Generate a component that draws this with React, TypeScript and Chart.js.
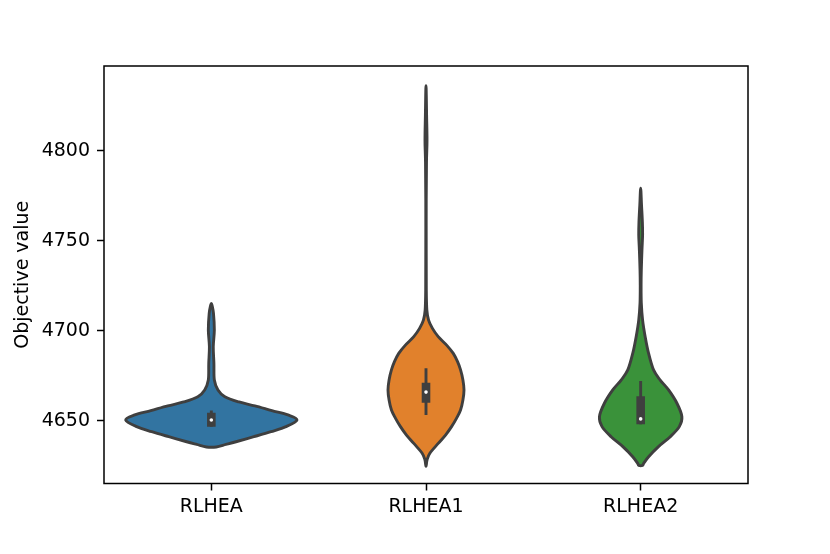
import React, { useEffect, useRef } from "react";
import { Chart, registerables } from "chart.js";

Chart.register(...registerables);

// ---- data ----
const categories = ["RLHEA", "RLHEA1", "RLHEA2"];
const yTicks = [4650, 4700, 4750, 4800];
const yMin = 4615.1;
const yMax = 4847.1;

// violin outlines: objective-value levels (bottom -> top) and half-widths (x-axis units)
const rlheaLevels = [4635.4, 4636.8, 4638.3, 4641.1, 4643.9, 4646.7, 4650.4, 4653.2, 4655.6, 4658.2, 4660.4, 4663.3, 4667.1, 4672.6, 4681.9, 4691.1, 4700.4, 4709.6, 4714.3, 4715.2];
const rlheaHalfWidths = [0.023, 0.068, 0.115, 0.198, 0.278, 0.348, 0.399, 0.357, 0.282, 0.203, 0.129, 0.063, 0.031, 0.014, 0.012, 0.009, 0.014, 0.010, 0.003, 0];

const rlhea1Levels = [4624.6, 4628.2, 4631.9, 4637.4, 4642.0, 4646.7, 4651.3, 4655.9, 4661.5, 4667.1, 4672.6, 4678.2, 4682.8, 4687.4, 4692.0, 4696.7, 4701.3, 4705.9, 4711.5, 4722.6, 4744.8, 4772.6, 4793.7, 4805.9, 4819.8, 4830.9, 4836.2];
const rlhea1HalfWidths = [0, 0.005, 0.018, 0.057, 0.091, 0.119, 0.142, 0.161, 0.172, 0.177, 0.172, 0.161, 0.147, 0.127, 0.096, 0.057, 0.030, 0.012, 0.004, 0.0014, 0.001, 0.001, 0.0023, 0.0047, 0.0028, 0.0014, 0];

const rlhea2Levels = [4625.2, 4626.3, 4630.0, 4635.6, 4641.1, 4646.7, 4652.2, 4659.7, 4667.1, 4672.6, 4678.2, 4687.4, 4696.7, 4705.9, 4715.4, 4725.4, 4733.7, 4744.8, 4753.2, 4760.4, 4769.8, 4779.2];
const rlhea2HalfWidths = [0.009, 0.014, 0.037, 0.083, 0.138, 0.180, 0.192, 0.169, 0.130, 0.091, 0.060, 0.037, 0.021, 0.009, 0.003, 0.002, 0.003, 0.006, 0.009, 0.008, 0.004, 0];

// inner box stats: [whisker low, q1, median, q3, whisker high]
const rlheaBox = [4646.7, 4646.7, 4650.4, 4654.4, 4655.6];
const rlhea1Box = [4653.2, 4660.0, 4665.9, 4671.1, 4679.1];
const rlhea2Box = [4648.0, 4648.0, 4651.0, 4663.6, 4672.0];

const fillColors = ["#3274a1", "#e1812c", "#3a923a"];
const edgeColor = "#3f3f3f";

const violins = [
  { levels: rlheaLevels, hw: rlheaHalfWidths, box: rlheaBox },
  { levels: rlhea1Levels, hw: rlhea1HalfWidths, box: rlhea1Box },
  { levels: rlhea2Levels, hw: rlhea2HalfWidths, box: rlhea2Box },
];

const FONT = { family: "'DejaVu Sans', 'Liberation Sans', sans-serif", size: 19 };

function smoothClosedPath(ctx: CanvasRenderingContext2D, p: number[][]) {
  const n = p.length;
  const t = 1 / 6;
  ctx.beginPath();
  ctx.moveTo(p[0][0], p[0][1]);
  for (let i = 0; i < n; i++) {
    const p0 = p[(i - 1 + n) % n];
    const p1 = p[i];
    const p2 = p[(i + 1) % n];
    const p3 = p[(i + 2) % n];
    ctx.bezierCurveTo(
      p1[0] + (p2[0] - p0[0]) * t,
      p1[1] + (p2[1] - p0[1]) * t,
      p2[0] - (p3[0] - p1[0]) * t,
      p2[1] - (p3[1] - p1[1]) * t,
      p2[0],
      p2[1]
    );
  }
  ctx.closePath();
}

const violinPlugin = {
  id: "violins",
  beforeDatasetsDraw(chart: any) {
    const { ctx, chartArea, scales } = chart;
    const xs = scales.x;
    const ys = scales.y;
    ctx.save();
    ctx.beginPath();
    ctx.rect(chartArea.left, chartArea.top, chartArea.right - chartArea.left, chartArea.bottom - chartArea.top);
    ctx.clip();
    violins.forEach((v, i) => {
      const pts: number[][] = [];
      for (let k = 0; k < v.levels.length; k++) {
        pts.push([xs.getPixelForValue(i + v.hw[k]), ys.getPixelForValue(v.levels[k])]);
      }
      for (let k = v.levels.length - 1; k >= 0; k--) {
        if (v.hw[k] === 0) continue;
        pts.push([xs.getPixelForValue(i - v.hw[k]), ys.getPixelForValue(v.levels[k])]);
      }
      smoothClosedPath(ctx, pts);
      ctx.fillStyle = fillColors[i];
      ctx.fill();
      ctx.lineWidth = 2.9;
      ctx.lineJoin = "round";
      ctx.strokeStyle = edgeColor;
      ctx.stroke();

      const cx = xs.getPixelForValue(i);
      const [wl, q1, med, q3, wh] = v.box;
      ctx.lineCap = "butt";
      ctx.strokeStyle = edgeColor;
      ctx.lineWidth = 2.9;
      ctx.beginPath();
      ctx.moveTo(cx, ys.getPixelForValue(wl));
      ctx.lineTo(cx, ys.getPixelForValue(wh));
      ctx.stroke();
      ctx.lineWidth = 8.6;
      ctx.beginPath();
      ctx.moveTo(cx, ys.getPixelForValue(q1));
      ctx.lineTo(cx, ys.getPixelForValue(q3));
      ctx.stroke();
      ctx.fillStyle = "#ffffff";
      ctx.beginPath();
      ctx.arc(cx, ys.getPixelForValue(med), 1.8, 0, Math.PI * 2);
      ctx.fill();
    });
    ctx.restore();
  },
};

const framePlugin = {
  id: "frame",
  afterDraw(chart: any) {
    const { ctx, chartArea } = chart;
    ctx.save();
    ctx.strokeStyle = "#000000";
    ctx.lineWidth = 1.5;
    ctx.strokeRect(chartArea.left, chartArea.top, chartArea.right - chartArea.left, chartArea.bottom - chartArea.top);
    ctx.restore();
  },
};

export default function App() {
  const ref = useRef<HTMLCanvasElement | null>(null);

  useEffect(() => {
    if (!ref.current) return;
    const chart = new Chart(ref.current, {
      type: "scatter",
      data: { datasets: [] },
      options: {
        animation: false,
        responsive: false,
        devicePixelRatio: 1,
        layout: { padding: { top: 66, right: 82, left: 0, bottom: 0 } },
        plugins: { legend: { display: false }, tooltip: { enabled: false } },
        scales: {
          x: {
            type: "linear",
            min: -0.5,
            max: 2.5,
            afterBuildTicks: (s: any) => {
              s.ticks = categories.map((_, i) => ({ value: i }));
            },
            afterFit: (s: any) => {
              s.height = 70.5;
            },
            ticks: {
              callback: (v: any) => categories[v] ?? "",
              font: FONT,
              color: "#000000",
              padding: 5,
              maxRotation: 0,
              autoSkip: false,
            },
            grid: { drawOnChartArea: false, drawTicks: true, tickLength: 7, tickWidth: 1.5, tickColor: "#000000" },
            border: { display: false },
          },
          y: {
            type: "linear",
            min: yMin,
            max: yMax,
            afterBuildTicks: (s: any) => {
              s.ticks = yTicks.map((v) => ({ value: v }));
            },
            afterFit: (s: any) => {
              s.width = 104;
            },
            ticks: {
              callback: (v: any) => String(v),
              font: FONT,
              color: "#000000",
              padding: 7,
              autoSkip: false,
            },
            grid: { drawOnChartArea: false, drawTicks: true, tickLength: 7, tickWidth: 1.5, tickColor: "#000000" },
            border: { display: false },
            title: {
              display: true,
              text: "Objective value",
              font: FONT,
              color: "#000000",
              padding: { top: 12, bottom: 0 },
            },
          },
        },
      },
      plugins: [violinPlugin, framePlugin],
    });
    return () => chart.destroy();
  }, []);

  return (
    <div style={{ position: "absolute", left: 0, top: 0, width: 830, height: 554, background: "#ffffff" }}>
      <canvas ref={ref} width={830} height={554} style={{ width: 830, height: 554, display: "block" }} />
    </div>
  );
}
